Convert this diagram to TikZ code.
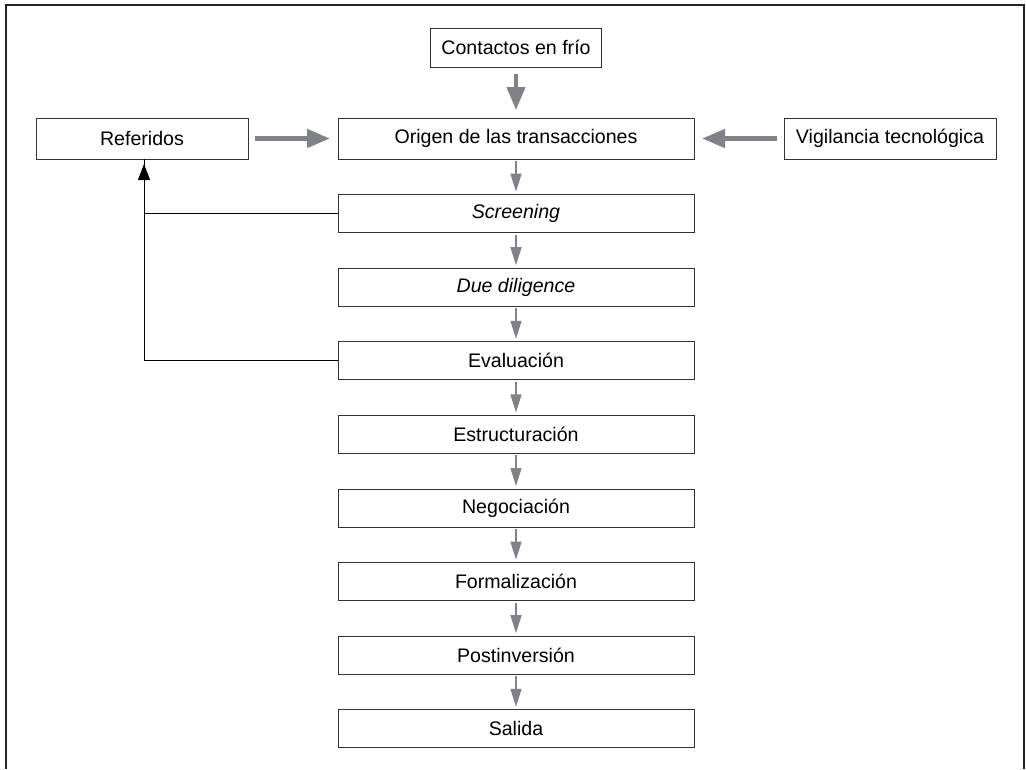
\documentclass[tikz,border=0pt]{standalone}
\usepackage{fontspec}
\setmainfont{Liberation Sans}
\usetikzlibrary{positioning,arrows.meta}

\definecolor{arrowgray}{RGB}{128,130,135}
\definecolor{boxline}{RGB}{50,50,50}
\definecolor{framecol}{RGB}{35,35,35}

\tikzset{
  stage/.style={draw=boxline, line width=1pt, minimum width=356pt, minimum height=38pt,
    inner sep=0pt, outer sep=0pt, font=\fontsize{19.6}{22}\selectfont},
  side/.style={stage, minimum width=212pt, minimum height=41pt},
  flow/.style={-{Triangle[length=18pt,width=11pt]}, draw=arrowgray, fill=arrowgray,
    line width=1.5pt, shorten >=3pt, shorten <=2pt},
  bigflow/.style={-{Triangle[length=23pt,width=18pt]}, draw=arrowgray, fill=arrowgray,
    line width=4.5pt, shorten >=8pt, shorten <=7pt},
  feed/.style={draw=black, line width=1pt},
}

\begin{document}
\begin{tikzpicture}[x=1pt, y=-1pt, node distance=35.6pt]
\useasboundingbox (0,0) rectangle (1026,769);
\draw[line width=2pt, framecol] (6,769) -- (6,5) -- (1024,5) -- (1024,769);

\node[stage, minimum height=41pt] (origen) at (516,138.5) {Origen de las transacciones};
\node[stage, minimum width=171pt, minimum height=39pt, above=51pt of origen] (contactos) {Contactos en frío};
\node[side, left=90pt of origen] (referidos) {Referidos};
\node[side, right=90pt of origen] (vigilancia) {Vigilancia tecnológica};

\node[stage, below=of origen] (screening) {\itshape Screening};
\node[stage, below=of screening] (duediligence) {\itshape Due diligence};
\node[stage, below=of duediligence] (evaluacion) {Evaluación};
\node[stage, below=of evaluacion] (estructuracion) {Estructuración};
\node[stage, below=of estructuracion] (negociacion) {Negociación};
\node[stage, below=of negociacion] (formalizacion) {Formalización};
\node[stage, below=of formalizacion] (postinversion) {Postinversión};
\node[stage, below=of postinversion] (salida) {Salida};

\path[bigflow]
(contactos) edge (origen)
(referidos) edge (origen)
(vigilancia) edge (origen);

\path[flow]
(origen) edge (screening)
(screening) edge (duediligence)
(duediligence) edge (evaluacion)
(evaluacion) edge (estructuracion)
(estructuracion) edge (negociacion)
(negociacion) edge (formalizacion)
(formalizacion) edge (postinversion)
(postinversion) edge (salida);

\draw[feed] (evaluacion.west) -| ([xshift=2pt]referidos.south);
\draw[feed, -{Triangle[length=16pt,width=12pt]}, shorten >=5pt] (screening.west) -| ([xshift=2pt]referidos.south);
\end{tikzpicture}
\end{document}
